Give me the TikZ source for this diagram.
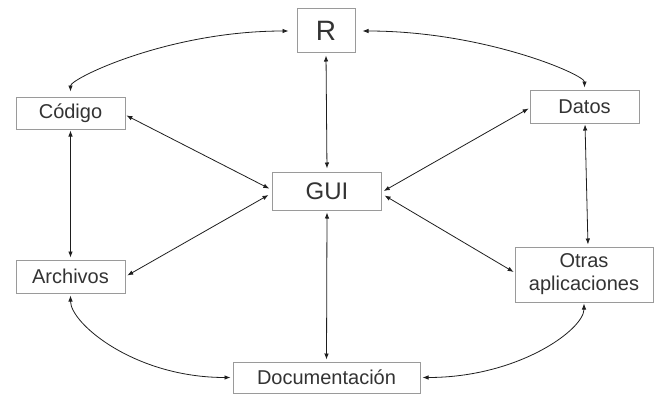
\documentclass[tikz,border=0pt]{standalone}
\usepackage{fontspec}
\setmainfont{Liberation Sans}
\usetikzlibrary{arrows.meta}
\definecolor{boxgray}{HTML}{9A9A9A}
\definecolor{txt}{HTML}{333333}
\definecolor{arr}{HTML}{1E1E1E}
\begin{document}
\begin{tikzpicture}[x=1pt,y=-1pt,
  box/.style={draw=boxgray,line width=1pt,fill=white,inner sep=0pt,text=txt,align=center,
    font=\fontsize{20}{23}\selectfont},
  link/.style={draw=arr,line width=0.8pt,{Latex[length=6pt,width=4.5pt]}-{Latex[length=6pt,width=4.5pt]}}
]
\useasboundingbox (0,0) rectangle (655,396);
\node[box,minimum width=58pt,minimum height=44pt,font=\fontsize{28}{30}\selectfont] (R) at (326,31) {R};
\node[box,minimum width=109pt,minimum height=32pt] (cod) at (70.5,113) {Código};
\node[box,minimum width=109pt,minimum height=33pt] (dat) at (584.5,106.5) {Datos};
\node[box,minimum width=109pt,minimum height=38pt,font=\fontsize{24}{26}\selectfont] (gui) at (327,191) {GUI};
\node[box,minimum width=109pt,minimum height=33pt] (arc) at (70.5,276.5) {Archivos};
\node[box,minimum width=138pt,minimum height=55pt] (otr) at (584,274.5) {Otras\\aplicaciones};
\node[box,minimum width=187pt,minimum height=31pt] (doc) at (326.5,377.5) {Documentación};

% curves
\draw[link,shorten <=8pt,shorten >=5pt] (R.west) .. controls +(-128,0) and +(0,-18) .. (cod.north);
\draw[link,shorten <=7pt,shorten >=2pt] (R.east) .. controls +(128,0) and +(0,-15) .. (dat.north);
\draw[link,shorten <=2pt,shorten >=2pt] (arc.south) .. controls +(0,30) and +(-98,0) .. (doc.west);
\draw[link,shorten <=1pt,shorten >=2pt] (otr.south) .. controls +(0,27) and +(98,0) .. (doc.east);

% straight
\draw[link,shorten <=2pt,shorten >=3pt] (R.south) -- (gui.north);
\draw[link,shorten <=2pt,shorten >=2pt] (gui.south) -- (doc.north);
\draw[link,shorten <=1pt,shorten >=3pt] ([yshift=-2pt]cod.east) -- ([yshift=1pt]gui.west);
\draw[link,shorten <=2pt,shorten >=4pt] (arc.east) -- ([yshift=-2pt]gui.west);
\draw[link,shorten <=1pt,shorten >=2pt] ([yshift=-1.5pt]dat.west) -- ([yshift=-1pt]gui.east);
\draw[link,shorten <=3pt,shorten >=1pt] ([yshift=-3pt]gui.east) -- ([yshift=2pt]otr.west);
\draw[link,shorten <=1pt,shorten >=2pt] (cod.south) -- (arc.north);
\draw[link,shorten <=1pt,shorten >=2pt] ([xshift=0.5pt]dat.south) -- ([xshift=4pt]otr.north);
\end{tikzpicture}
\end{document}
